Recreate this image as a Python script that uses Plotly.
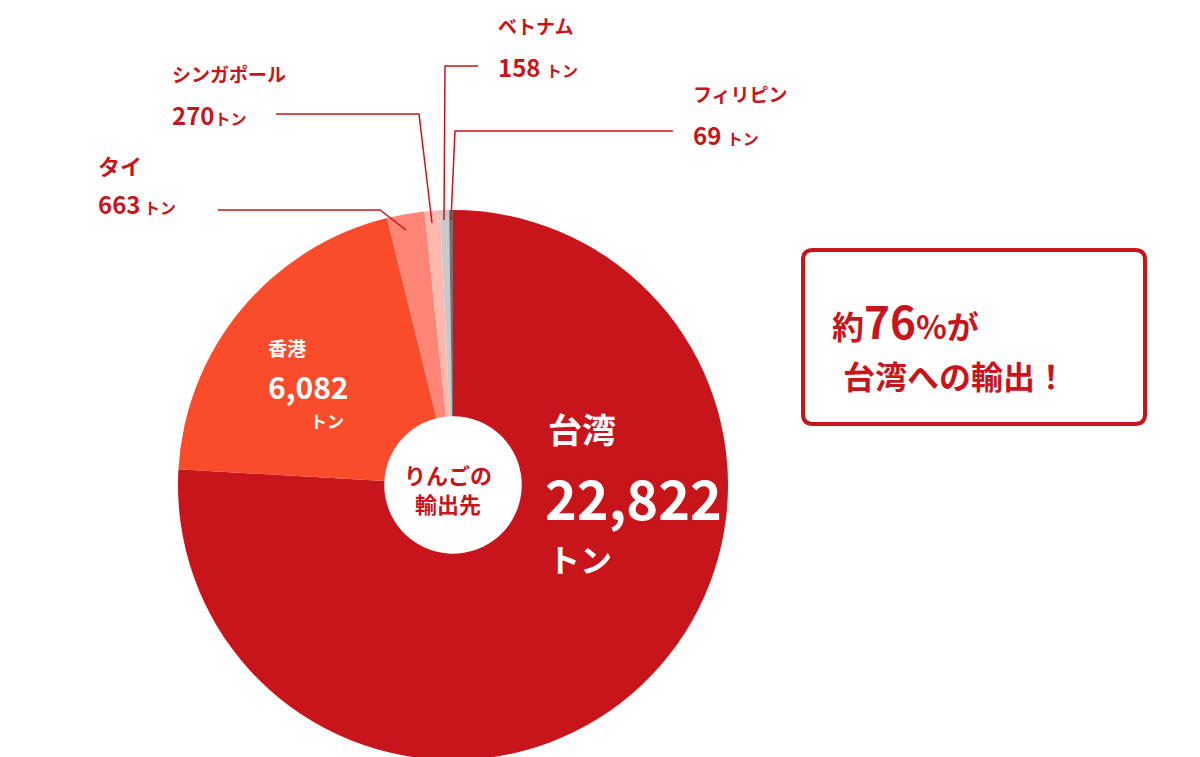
import plotly.graph_objects as go

# りんごの輸出先 (トン)
countries = ["台湾", "香港", "タイ", "シンガポール", "ベトナム", "フィリピン"]
tons = [22822, 6082, 663, 270, 158, 69]
colors = ["#C8141B", "#FA4B2A", "#FF8576", "#FFB8AE", "#C8C8C8", "#707070"]

W, H = 1200, 757
RED = "#C8141B"
FONT = "Noto Sans CJK JP"


def px(x, y):
    return x / W, 1 - y / H


fig = go.Figure()
fig.add_trace(go.Pie(
    labels=countries, values=tons, sort=False, direction="clockwise",
    rotation=0, hole=0.25, textinfo="none", hoverinfo="label+value",
    marker=dict(colors=colors, line=dict(width=0)),
    domain=dict(x=[170 / W, 720 / W], y=[1 - 752 / H, 1 - 202 / H]),
    showlegend=False,
))

annotations = []


def note(x, y, text, size, color=RED, xanchor="left", shadow=None, align="left"):
    ax, ay = px(x, y)
    f = dict(family=FONT, size=size, color=color, weight="bold")
    if shadow:
        f["shadow"] = shadow
    annotations.append(dict(x=ax, y=ay, xref="paper", yref="paper", text=text,
                            showarrow=False, xanchor=xanchor, yanchor="middle",
                            font=f, align=align))


def fmt(v):
    return f"{v:,}"


# outer labels
note(88, 157, countries[2], 22)
note(88, 196, f"{tons[2]}<span style='font-size:16px'> トン</span>", 24)
note(162, 66, countries[3], 19)
note(162, 106, f"{tons[3]}<span style='font-size:16px'>トン</span>", 24)
note(488, 18, countries[4], 19)
note(488, 58, f"{tons[4]} <span style='font-size:16px'>トン</span>", 24)
note(683, 86, countries[5], 19)
note(683, 127, f"{tons[5]} <span style='font-size:16px'>トン</span>", 24)

# inside labels
note(258, 340, countries[1], 19, color="white")
note(258, 378, fmt(tons[1]), 30, color="white")
note(300, 412, "トン", 17, color="white")
sh = "3px 3px 0 #C8141B, -3px -3px 0 #C8141B, 3px -3px 0 #C8141B, -3px 3px 0 #C8141B"
note(538, 420, countries[0], 34, color="white")
note(535, 488, fmt(tons[0]), 54, color="white", shadow=sh)
note(538, 550, "トン", 32, color="white")

# centre
note(440, 480, "りんごの<br>輸出先", 22, xanchor="center", align="center")

# callout
share = round(tons[0] / sum(tons) * 100)
note(822, 312, f"約<span style='font-size:44px'>{share}</span>%が", 32)
note(833, 367, "台湾への輸出！", 32)

shapes = []
leaders = [
    [(210, 202), (372, 202), (398, 222)],
    [(268, 106), (411, 106), (424, 215)],
    [(470, 58), (437, 58), (436, 212)],
    [(665, 123), (447, 123), (443, 212)],
]
for pts in leaders:
    path = "M " + " L ".join(f"{px(x, y)[0]},{px(x, y)[1]}" for x, y in pts)
    shapes.append(dict(type="path", path=path, xref="paper", yref="paper",
                       line=dict(color=RED, width=1.5)))

x0, y0 = px(795, 242)
x1, y1 = px(1137, 416)
r = 10 / W
ry = 10 / H
path = (f"M {x0 + r},{y0} L {x1 - r},{y0} Q {x1},{y0} {x1},{y0 - ry} "
        f"L {x1},{y1 + ry} Q {x1},{y1} {x1 - r},{y1} L {x0 + r},{y1} "
        f"Q {x0},{y1} {x0},{y1 + ry} L {x0},{y0 - ry} Q {x0},{y0} {x0 + r},{y0} Z")
shapes.append(dict(type="path", path=path, xref="paper", yref="paper",
                   line=dict(color=RED, width=4), fillcolor="white"))

fig.update_layout(
    width=W, height=H, margin=dict(l=0, r=0, t=0, b=0),
    paper_bgcolor="white", plot_bgcolor="white",
    annotations=annotations, shapes=shapes,
    font=dict(family=FONT),
)

fig.write_html("out.html")
